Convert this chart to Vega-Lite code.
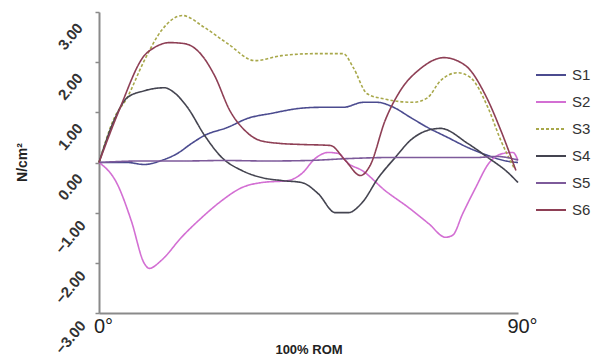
{
  "$schema": "https://vega.github.io/schema/vega-lite/v6.json",
  "width": 419,
  "height": 301,
  "autosize": {"type": "none"},
  "padding": {"left": 99, "top": 12, "right": 82, "bottom": 45},
  "background": "white",
  "config": {
    "view": {"stroke": null},
    "font": "Liberation Sans"
  },
  "data": {
    "values": [
      {"s": "S1", "x": 0, "v": 0}, {"s": "S1", "x": 6.7, "v": 0}, {"s": "S1", "x": 10.8, "v": -0.04}, {"s": "S1", "x": 14.9, "v": 0.04},
      {"s": "S1", "x": 18.7, "v": 0.18}, {"s": "S1", "x": 22.1, "v": 0.38}, {"s": "S1", "x": 25.2, "v": 0.54}, {"s": "S1", "x": 30.7, "v": 0.7},
      {"s": "S1", "x": 35.5, "v": 0.88}, {"s": "S1", "x": 41.2, "v": 0.98}, {"s": "S1", "x": 48, "v": 1.08}, {"s": "S1", "x": 52.8, "v": 1.1},
      {"s": "S1", "x": 58.3, "v": 1.1}, {"s": "S1", "x": 63.1, "v": 1.2}, {"s": "S1", "x": 66.4, "v": 1.2}, {"s": "S1", "x": 70.3, "v": 1.1},
      {"s": "S1", "x": 74.3, "v": 0.9}, {"s": "S1", "x": 78.4, "v": 0.7}, {"s": "S1", "x": 83.2, "v": 0.5}, {"s": "S1", "x": 88, "v": 0.3},
      {"s": "S1", "x": 92.8, "v": 0.14}, {"s": "S1", "x": 96.6, "v": 0.04}, {"s": "S1", "x": 100, "v": 0},

      {"s": "S2", "x": 0, "v": 0}, {"s": "S2", "x": 4.3, "v": -0.42}, {"s": "S2", "x": 7.7, "v": -1.16}, {"s": "S2", "x": 10.8, "v": -2.01},
      {"s": "S2", "x": 12, "v": -2.11}, {"s": "S2", "x": 14.9, "v": -1.95}, {"s": "S2", "x": 19.7, "v": -1.49}, {"s": "S2", "x": 24.5, "v": -1.1},
      {"s": "S2", "x": 29.3, "v": -0.76}, {"s": "S2", "x": 34.1, "v": -0.5}, {"s": "S2", "x": 38.8, "v": -0.4}, {"s": "S2", "x": 45.1, "v": -0.36},
      {"s": "S2", "x": 48.4, "v": -0.22}, {"s": "S2", "x": 51.6, "v": 0.08}, {"s": "S2", "x": 54.7, "v": 0.2}, {"s": "S2", "x": 57.1, "v": 0.18},
      {"s": "S2", "x": 59.5, "v": -0.02}, {"s": "S2", "x": 62.8, "v": -0.16}, {"s": "S2", "x": 68.3, "v": -0.56}, {"s": "S2", "x": 73.9, "v": -0.9},
      {"s": "S2", "x": 78.7, "v": -1.22}, {"s": "S2", "x": 82.7, "v": -1.49}, {"s": "S2", "x": 84.4, "v": -1.45}, {"s": "S2", "x": 86.8, "v": -1.02},
      {"s": "S2", "x": 89.9, "v": -0.5}, {"s": "S2", "x": 93, "v": -0.02}, {"s": "S2", "x": 96.4, "v": 0.18}, {"s": "S2", "x": 98.8, "v": 0.2},
      {"s": "S2", "x": 100, "v": 0.04},

      {"s": "S3", "x": 0, "v": 0}, {"s": "S3", "x": 3.6, "v": 0.88}, {"s": "S3", "x": 6.7, "v": 1.29}, {"s": "S3", "x": 10.8, "v": 2.03},
      {"s": "S3", "x": 14.9, "v": 2.63}, {"s": "S3", "x": 19.9, "v": 2.93}, {"s": "S3", "x": 25.2, "v": 2.69}, {"s": "S3", "x": 30.7, "v": 2.37},
      {"s": "S3", "x": 37.2, "v": 2.03}, {"s": "S3", "x": 43.6, "v": 2.13}, {"s": "S3", "x": 51.6, "v": 2.17}, {"s": "S3", "x": 58.3, "v": 2.17},
      {"s": "S3", "x": 60.7, "v": 1.89}, {"s": "S3", "x": 64, "v": 1.37}, {"s": "S3", "x": 67.9, "v": 1.27}, {"s": "S3", "x": 75.1, "v": 1.2},
      {"s": "S3", "x": 78.4, "v": 1.29}, {"s": "S3", "x": 81.5, "v": 1.63}, {"s": "S3", "x": 85.6, "v": 1.79}, {"s": "S3", "x": 88.7, "v": 1.69},
      {"s": "S3", "x": 92.8, "v": 1.1}, {"s": "S3", "x": 95.9, "v": 0.44}, {"s": "S3", "x": 99, "v": -0.1},

      {"s": "S4", "x": 0, "v": 0}, {"s": "S4", "x": 3.6, "v": 0.84}, {"s": "S4", "x": 6.7, "v": 1.29}, {"s": "S4", "x": 10.8, "v": 1.43},
      {"s": "S4", "x": 15.6, "v": 1.49}, {"s": "S4", "x": 18, "v": 1.39}, {"s": "S4", "x": 21.1, "v": 1.1}, {"s": "S4", "x": 25.2, "v": 0.54},
      {"s": "S4", "x": 29.3, "v": 0.1}, {"s": "S4", "x": 34.1, "v": -0.16}, {"s": "S4", "x": 38.8, "v": -0.3}, {"s": "S4", "x": 43.6, "v": -0.36},
      {"s": "S4", "x": 48.4, "v": -0.4}, {"s": "S4", "x": 52.3, "v": -0.62}, {"s": "S4", "x": 56.4, "v": -1}, {"s": "S4", "x": 59.5, "v": -1},
      {"s": "S4", "x": 62.8, "v": -0.8}, {"s": "S4", "x": 66.7, "v": -0.3}, {"s": "S4", "x": 70.7, "v": 0.1}, {"s": "S4", "x": 74.3, "v": 0.44},
      {"s": "S4", "x": 78.4, "v": 0.64}, {"s": "S4", "x": 81.5, "v": 0.68}, {"s": "S4", "x": 88, "v": 0.38}, {"s": "S4", "x": 92.8, "v": 0.1},
      {"s": "S4", "x": 97.6, "v": -0.2}, {"s": "S4", "x": 100, "v": -0.4},

      {"s": "S5", "x": 0, "v": 0}, {"s": "S5", "x": 10, "v": 0.03}, {"s": "S5", "x": 20, "v": 0.03}, {"s": "S5", "x": 30, "v": 0.04},
      {"s": "S5", "x": 40, "v": 0.03}, {"s": "S5", "x": 50, "v": 0.04}, {"s": "S5", "x": 60, "v": 0.08}, {"s": "S5", "x": 70, "v": 0.1},
      {"s": "S5", "x": 80, "v": 0.1}, {"s": "S5", "x": 90, "v": 0.1}, {"s": "S5", "x": 95, "v": 0.12}, {"s": "S5", "x": 100, "v": 0.05},

      {"s": "S6", "x": 0, "v": 0}, {"s": "S6", "x": 4.8, "v": 1.04}, {"s": "S6", "x": 10.8, "v": 2.13}, {"s": "S6", "x": 13.2, "v": 2.29},
      {"s": "S6", "x": 16.8, "v": 2.39}, {"s": "S6", "x": 20.4, "v": 2.37}, {"s": "S6", "x": 24, "v": 2.19}, {"s": "S6", "x": 27.6, "v": 1.73},
      {"s": "S6", "x": 31.2, "v": 1.04}, {"s": "S6", "x": 34.8, "v": 0.64}, {"s": "S6", "x": 38.4, "v": 0.44}, {"s": "S6", "x": 43.2, "v": 0.38},
      {"s": "S6", "x": 48, "v": 0.36}, {"s": "S6", "x": 55.2, "v": 0.34}, {"s": "S6", "x": 58.8, "v": 0.04}, {"s": "S6", "x": 62.4, "v": -0.26},
      {"s": "S6", "x": 64.7, "v": -0.06}, {"s": "S6", "x": 68.3, "v": 0.84}, {"s": "S6", "x": 71.9, "v": 1.43}, {"s": "S6", "x": 76.7, "v": 1.87},
      {"s": "S6", "x": 82.3, "v": 2.09}, {"s": "S6", "x": 87.5, "v": 1.93}, {"s": "S6", "x": 92.3, "v": 1.33}, {"s": "S6", "x": 95.9, "v": 0.64},
      {"s": "S6", "x": 99.5, "v": -0.16}
    ]
  },
  "mark": {"type": "line", "interpolate": "monotone", "strokeWidth": 1.6},
  "encoding": {
    "x": {
      "field": "x", "type": "quantitative",
      "scale": {"domain": [0, 100], "nice": false, "zero": false},
      "axis": {
        "values": [0, 100],
        "labelExpr": "datum.value == 0 ? '0°' : '90°'",
        "labelFontSize": 20, "labelColor": "#222", "labelPadding": 3, "labelOffset": 4,
        "labelFlush": false,
        "ticks": false, "grid": false,
        "domainColor": "#8a8a8a", "domainWidth": 2,
        "title": "100% ROM", "titleFontSize": 13, "titleFontWeight": "bold", "titleColor": "#222",
        "titleY": 40, "titleBaseline": "alphabetic"
      }
    },
    "y": {
      "field": "v", "type": "quantitative",
      "scale": {"domain": [-3, 3], "nice": false},
      "axis": {
        "values": [-3, -2, -1, 0, 1, 2, 3],
        "format": ".2f",
        "labelAngle": -50, "labelAlign": "center", "labelBaseline": "middle",
        "labelFontSize": 15, "labelFontWeight": "bold", "labelColor": "#333",
        "labelPadding": 25, "labelOffset": 24, "labelFlush": false,
        "tickSize": 4, "tickColor": "#8a8a8a", "tickWidth": 1.5,
        "grid": false, "domainColor": "#8a8a8a", "domainWidth": 2,
        "title": "N/cm²", "titleFontSize": 14, "titleFontWeight": "bold", "titleColor": "#222",
        "titleAngle": -90, "titleAlign": "center", "titleBaseline": "middle",
        "titleX": -77, "titleY": 150
      }
    },
    "color": {
      "field": "s", "type": "nominal", "title": null,
      "scale": {
        "domain": ["S1", "S2", "S3", "S4", "S5", "S6"],
        "range": ["#4b4b8f", "#d36fd3", "#a8a84a", "#444450", "#7d5a9a", "#8e3f55"]
      },
      "legend": {
        "orient": "none", "legendX": 436, "legendY": 47,
        "symbolType": "stroke", "symbolSize": 900, "symbolStrokeWidth": 2,
        "labelFontSize": 15, "labelColor": "#333", "labelOffset": 5,
        "rowPadding": 3
      }
    },
    "strokeDash": {
      "field": "s", "type": "nominal", "title": null,
      "scale": {
        "domain": ["S1", "S2", "S3", "S4", "S5", "S6"],
        "range": [[1, 0], [1, 0], [3, 2], [1, 0], [1, 0], [1, 0]]
      }
    }
  }
}
